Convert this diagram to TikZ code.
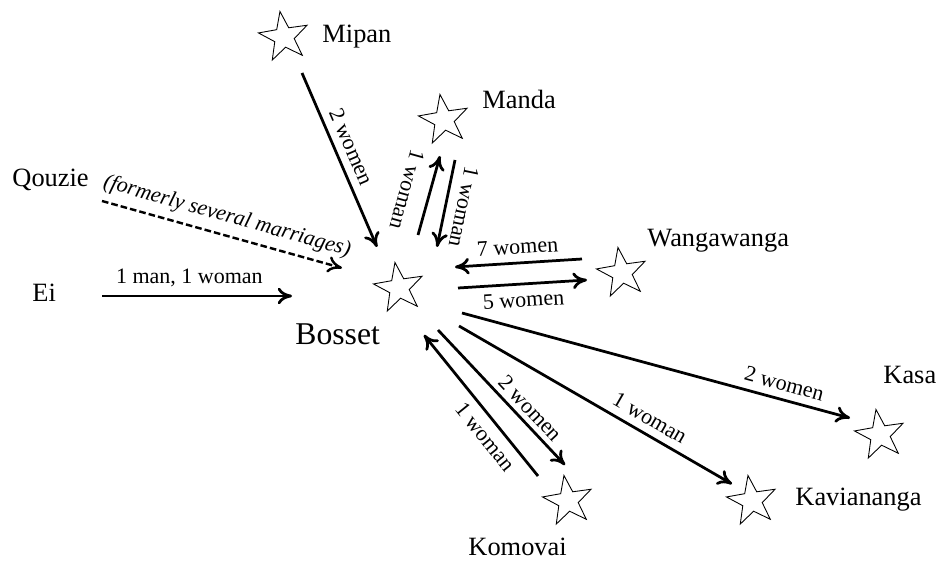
\documentclass[tikz,border=0pt]{standalone}
\usepackage{fontspec}
\setmainfont{Liberation Serif}
\usetikzlibrary{arrows.meta,shapes.geometric}
\tikzset{
    place/.style={star, star points=5, star point ratio=2.5, draw, thin, inner sep=0pt, minimum size=23.5pt, rotate=9},
    place name/.style={anchor=base west, inner sep=0pt, font=\fontsize{12}{14}\selectfont},
    arr/.style={-{To[length=6.5pt,width=7.5pt]}, line width=1.25pt},
    rarr/.style={{To[length=6.5pt,width=7.5pt]}-, line width=1.25pt},
    former/.style={arr, line width=1.1pt, dash pattern=on 3pt off 1.4pt},
    count/.style={sloped, font=\fontsize{10}{12}\selectfont},
    count down/.style={count, allow upside down},
}

\begin{document}
\begin{tikzpicture}[x=0.4545pt, y=-0.4545pt]
    \useasboundingbox (0,0) rectangle (937,562);

    % villages
    \node[place] (mipan) at (284,37) {};
    \node[place] (manda) at (444,120) {};
    \node[place] (bosset) at (399,288) {};
    \node[place] (wanga) at (622,273) {};
    \node[place] (kasa) at (880,435) {};
    \node[place] (kavi) at (752,501) {};
    \node[place] (komovai) at (568,501) {};

    % names
    \node[place name] (mipan-name) at (322,43) {Mipan};
    \node[place name] (manda-name) at (482,109) {Manda};
    \node[place name] (qouzie-name) at (12,187) {Qouzie};
    \node[place name] (ei-name) at (32,302) {Ei};
    \node[place name, font=\fontsize{14.4}{17}\selectfont] (bosset-name) at (295,345) {Bosset};
    \node[place name] (wanga-name) at (647,247) {Wangawanga};
    \node[place name] (kasa-name) at (883,383) {Kasa};
    \node[place name] (kavi-name) at (795,505) {Kaviananga};
    \node[place name] (komovai-name) at (468,555) {Komovai};

    % arrow ends
    \coordinate (mi1) at (302,73);  \coordinate (mi2) at (377,247);
    \coordinate (ma1) at (418,235); \coordinate (ma2) at (440,156);
    \coordinate (ma3) at (455,160); \coordinate (ma4) at (437,247);
    \coordinate (qo1) at (102,201); \coordinate (qo2) at (342,268);
    \coordinate (ei1) at (102,296); \coordinate (ei2) at (292,296);
    \coordinate (wa1) at (582,259); \coordinate (wa2) at (455,267);
    \coordinate (wa3) at (458,288); \coordinate (wa4) at (587,280);
    \coordinate (ka1) at (462,313); \coordinate (ka2) at (850,418);
    \coordinate (kv1) at (459,326); \coordinate (kv2) at (732,484);
    \coordinate (ko1) at (438,330); \coordinate (ko2) at (565,465);
    \coordinate (ko3) at (538,476); \coordinate (ko4) at (424,335);

    % marriages
    \draw[arr] (mi1) -- (mi2) node[count, pos=.46, above] {2 women};
    \draw[rarr] (ma2) -- (ma1) node[count down, midway, below=3pt] {1 woman};
    \draw[arr] (ma3) -- (ma4) node[count down, midway, above=1pt] {1 woman};
    \draw[former] (qo1) -- (qo2) node[count, midway, above] {\itshape (formerly several marriages)};
    \draw[arr] (ei1) -- (ei2) node[count, pos=.46, above] {1 man, 1 woman};
    \draw[arr] (wa1) -- (wa2) node[count, midway, above] {7 women};
    \draw[arr] (wa3) -- (wa4) node[count, midway, below] {5 women};
    \draw[arr] (ka1) -- (ka2) node[count, pos=.82, above] {2 women};
    \draw[arr] (kv1) -- (kv2) node[count, pos=.67, above] {1 woman};
    \draw[arr] (ko1) -- (ko2) node[count, pos=.65, above=-1pt] {2 women};
    \draw[arr] (ko3) -- (ko4) node[count, pos=.35, below] {1 woman};
\end{tikzpicture}
\end{document}
